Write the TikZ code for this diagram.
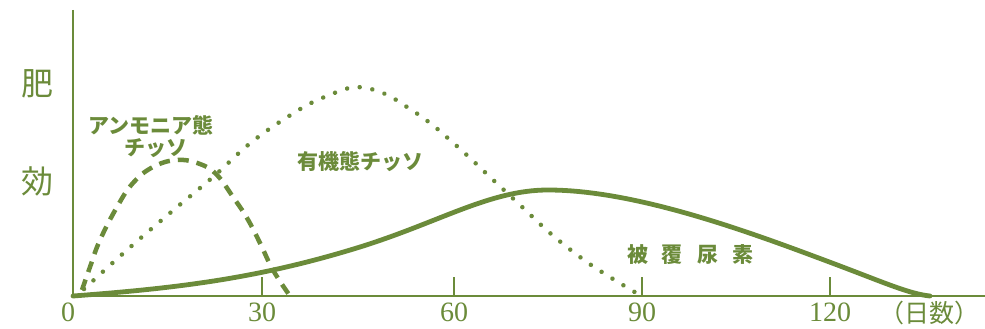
\documentclass[tikz,border=0pt]{standalone}
\usepackage{fontspec}
\setmainfont{Liberation Serif}
\newfontfamily\jp{Noto Sans CJK JP}
\usetikzlibrary{calc}
\definecolor{olive}{RGB}{107,139,58}
\tikzset{
  axis/.style={draw=olive,line width=2.2},
  tickmark/.style={draw=olive,line width=1.3},
  ticklabel/.style={text=olive,font=\fontsize{28}{28}\selectfont,inner sep=0},
  curvelabel/.style={text=olive,font=\jp\bfseries\fontsize{21}{23}\selectfont,inner sep=0,align=center},
  ylabel/.style={text=olive,font=\jp\fontsize{32}{32}\selectfont,inner sep=0},
  ammonia/.style={draw=olive,line width=4.5,dash pattern=on 11 off 8},
  organic/.style={draw=olive,line width=4.5,line cap=round,dash pattern=on 0.01 off 12.8},
  coated/.style={draw=olive,line width=4.8,line cap=round},
}
\begin{document}
\begin{tikzpicture}[x=1pt,y=-1pt]
\useasboundingbox (0,0) rectangle (985,329);
% axes
\coordinate (origin) at (73,296);
\coordinate (ytop) at (73,10);
\coordinate (xend) at (985,296);
\draw[axis] (ytop) -- (origin) -- (xend);
% ticks
\foreach \x/\l in {262/30,454/60,642/90,830/120}{
  \coordinate (t\l) at (\x,296);
  \draw[tickmark] (t\l) -- ++(0,-19);
  \node[ticklabel,anchor=mid] at ($(t\l)+(0,23)$) {\l};
}
\node[ticklabel,anchor=mid] (zero) at (68,319) {0};
\node[text=olive,font=\jp\fontsize{25}{25}\selectfont,inner sep=0,anchor=mid] (days) at (929,320) {（日数）};
% y label
\node[ylabel] (hi) at (37,84) {肥};
\node[ylabel] (ko) at (37,181) {効};
% coated urea
\draw[coated] (73,296) .. controls (180,288) and (260,278) .. (360,247)
  .. controls (440,222) and (490,190) .. (548,190)
  .. controls (640,190) and (760,236) .. (840,266)
  .. controls (885,283) and (910,294) .. (930,296);
% organic
\draw[organic] plot[smooth,tension=0.7] coordinates {(84,289) (127,250) (170,213) (213,177) (253,141) (297,111) (320,99) (343,90) (358,87) (383,93) (407,107) (430,123) (450,140) (470,158) (490,177) (520,205) (550,233) (580,257) (605,274) (638,294)};
% ammonia
\draw[ammonia] plot[smooth,tension=0.7] coordinates {(82,290) (90,267) (100,240) (117,207) (133,183) (153,167) (177,160) (200,164) (217,175) (233,197) (247,218) (260,243) (273,270) (290,296)};
% labels
\node[curvelabel] (amlab) at (151,125) {アンモニア態};
\node[curvelabel] (amlab2) at (156,148) {チッソ};
\node[curvelabel] (orglab) at (360,162) {有機態チッソ};
\node[curvelabel] (urea) at (690,255) {被\hspace{14pt}覆\hspace{14pt}尿\hspace{14pt}素};
\end{tikzpicture}
\end{document}
